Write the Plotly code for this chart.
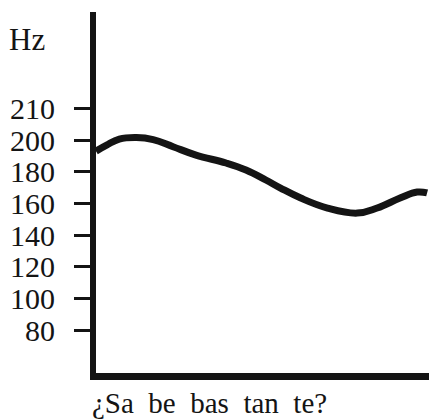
import plotly.graph_objects as go

# pitch contour (time as % of utterance, pitch in Hz)
time_pct = [1.0, 4.1, 7.8, 12.8, 17.7, 23.5, 30.2, 39.0, 44.8, 50.6,
            54.9, 60.8, 68.6, 77.3, 83.1, 89.8, 94.8, 97.7]
pitch_hz = [193.0, 196.8, 200.6, 201.6, 200.3, 195.8, 190.5, 185.5, 181.1, 174.8,
            169.7, 163.4, 157.1, 153.9, 157.1, 163.4, 167.2, 166.6]

# the drawn scale is evenly stepped, so the top mark sits one step above 200
tick_vals = [80, 100, 120, 140, 160, 180, 200, 220]
tick_text = ['80', '100', '120', '140', '160', '180', '200', '210']

unit_label = 'Hz'
phrase = '¿Sa\u00a0 be\u00a0 bas\u00a0 tan\u00a0 te?'

SERIF = 'Liberation Serif'
INK = '#141414'

fig = go.Figure()

fig.add_trace(go.Scatter(
    x=time_pct,
    y=pitch_hz,
    mode='lines',
    line=dict(color=INK, width=7, shape='spline', smoothing=1.2),
    hoverinfo='skip',
    showlegend=False
))

# the page body adds an 8px margin, so the figure is 8px smaller than the window
fig.update_layout(
    width=429,
    height=412,
    paper_bgcolor='white',
    plot_bgcolor='white',
    margin=dict(l=86, r=2, t=4, b=47),
    font=dict(family=SERIF, size=30, color=INK),
    xaxis=dict(
        range=[1, 100],
        showgrid=False,
        zeroline=False,
        showticklabels=False,
        ticks='',
        showline=True,
        linecolor=INK,
        linewidth=7
    ),
    yaxis=dict(
        range=[53.0, 280.8],
        tickvals=tick_vals,
        ticktext=tick_text,
        showgrid=False,
        zeroline=False,
        ticks='outside',
        ticklen=16,
        tickwidth=3,
        tickcolor=INK,
        ticklabelstandoff=13,
        showline=True,
        linecolor=INK,
        linewidth=6,
        tickfont=dict(family=SERIF, size=30, color=INK)
    ),
    annotations=[
        dict(text=unit_label, x=-0.205, y=0.925, xref='paper', yref='paper',
             xanchor='center', yanchor='middle', showarrow=False,
             font=dict(family=SERIF, size=31, color=INK)),
        dict(text=phrase, x=-0.018, y=-0.083, xref='paper', yref='paper',
             xanchor='left', yanchor='middle', showarrow=False,
             font=dict(family=SERIF, size=29, color=INK))
    ]
)

fig.write_html("out.html")
